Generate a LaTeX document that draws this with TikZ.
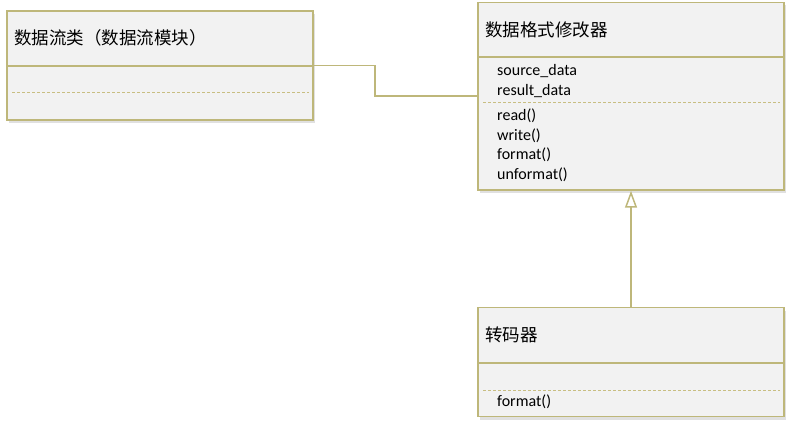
\documentclass[tikz,border=0pt]{standalone}
\usepackage{fontspec}
\setmainfont{Carlito}
\newfontfamily\cjk{Noto Sans CJK SC}
\usetikzlibrary{arrows.meta,shadows}
\definecolor{umlborder}{RGB}{190,183,122}
\definecolor{umlfill}{RGB}{242,242,242}
\definecolor{dashcol}{RGB}{200,190,130}
\tikzset{
  classbox/.style={draw=umlborder, line width=1.5pt, fill=umlfill, inner sep=0pt,
    drop shadow={shadow xshift=1.5pt, shadow yshift=-3pt, opacity=0.2, fill=black!60}},
  sepline/.style={draw=umlborder, line width=1.5pt},
  dashline/.style={draw=dashcol, line width=1pt, dash pattern=on 3pt off 2pt},
  title/.style={anchor=west, inner sep=0pt, font=\cjk\fontsize{17.5}{20}\selectfont},
  member/.style={anchor=west, inner sep=0pt, font=\fontsize{16}{18}\selectfont},
  conn/.style={draw=umlborder, line width=1.6pt}
}
\begin{document}
\begin{tikzpicture}[x=1pt,y=-1pt]
\useasboundingbox (0,0) rectangle (792,427);
% boxes
\node[classbox, minimum width=306pt, minimum height=109pt] (b1) at (160,65.5) {};
\node[classbox, minimum width=306pt, minimum height=187.5pt] (b2) at (631,96.25) {};
\node[classbox, minimum width=306pt, minimum height=109pt] (b3) at (631,362.2) {};
% header separators
\draw[sepline] (7,66) -- (313,66);
\draw[sepline] (478,57) -- (784,57);
\draw[sepline] (478,363) -- (784,363);
% dashed compartment lines
\draw[dashline] (12,93) -- (309,93);
\draw[dashline] (483,103) -- (780,103);
\draw[dashline] (483,390) -- (780,390);
% titles
\node[title] (t1) at (14,38) {数据流类（数据流模块）};
\node[title] (t2) at (485,29.5) {数据格式修改器};
\node[title] (t3) at (485,335) {转码器};
% members
\node[member] (m1) at (497,71) {source\_data};
\node[member] (m2) at (497,91) {result\_data};
\node[member] (m3) at (497,116) {read()};
\node[member] (m4) at (497,135.5) {write()};
\node[member] (m5) at (497,155) {format()};
\node[member] (m6) at (497,175) {unformat()};
\node[member] (m7) at (497,402) {format()};
% connectors
\draw[conn] (b1.east) -- ++(61,0) |- (b2.west);
\draw[conn, -{Triangle[open, length=17pt, width=12pt, line width=1.5pt, fill=white]}] (b3.north) -- (b2.south);
\end{tikzpicture}
\end{document}
